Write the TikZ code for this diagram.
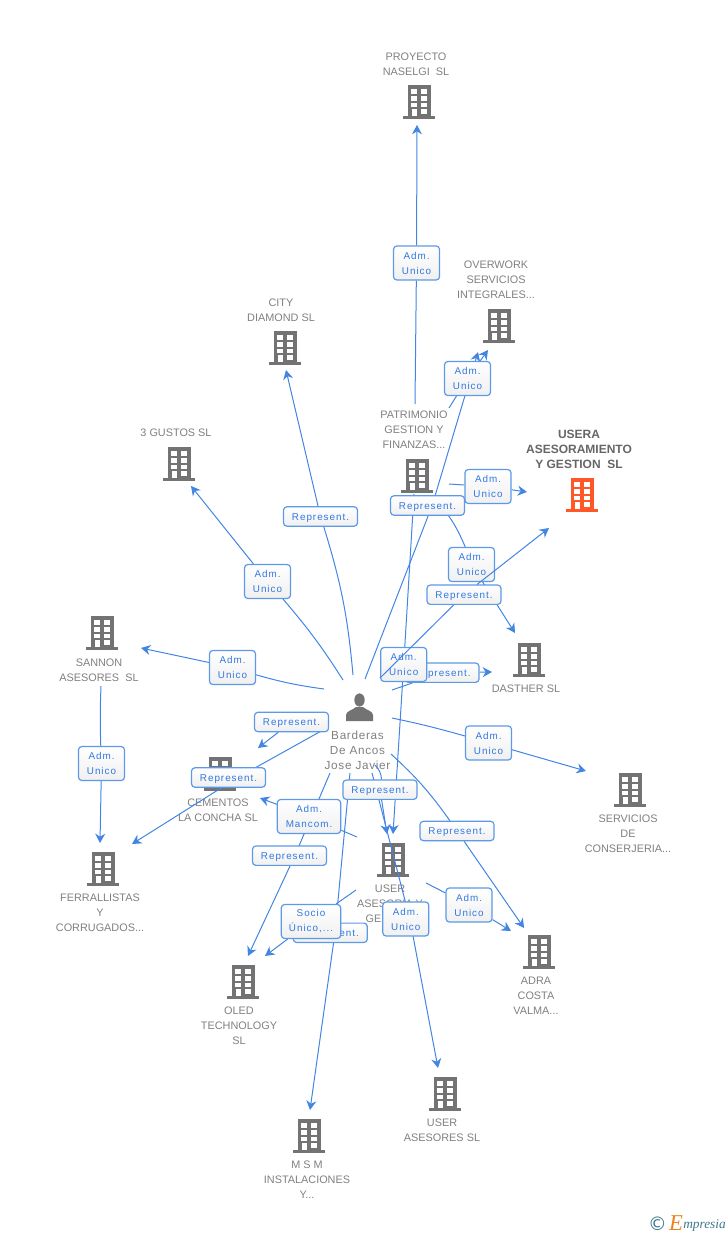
\documentclass[tikz,border=0pt]{standalone}
\usepackage{fontspec}
\setmainfont{Liberation Sans}
\newfontfamily\boxfont[LetterSpace=10]{Liberation Sans}
\newfontfamily\personfont[LetterSpace=6]{Liberation Sans}
\newfontfamily\logofont{Liberation Serif}
\newfontfamily\copyfont{DejaVu Sans}
\usetikzlibrary{arrows.meta}
\definecolor{linkblue}{RGB}{66, 133, 226}
\definecolor{boxblue}{RGB}{92, 153, 232}
\definecolor{boxtext}{RGB}{50, 120, 225}
\definecolor{iconcolor}{RGB}{115, 115, 115}
\definecolor{textcolor}{RGB}{128, 128, 128}
\definecolor{focuscolor}{RGB}{255, 87, 40}
\definecolor{focustext}{RGB}{102, 102, 102}
\definecolor{logoteal}{RGB}{62, 120, 140}
\definecolor{logoorange}{RGB}{240, 130, 30}
\pgfdeclarelayer{boxes}
\pgfsetlayers{main,boxes}
\tikzset{
  pics/building/.style={code={
    \fill[#1] (-11.5,-16.8) rectangle (11.5,14.2);
    \fill[#1] (-16,14.2) rectangle (16,16.8);
    \fill[white] (-7.7,-12.8) rectangle (-2.3,-7.8);
    \fill[white] (2,-12.8) rectangle (7.7,-7.8);
    \fill[white] (-7.7,-6.2) rectangle (-2.3,-1.5);
    \fill[white] (2,-6.2) rectangle (7.7,-1.5);
    \fill[white] (-7.7,0.5) rectangle (-2.3,5);
    \fill[white] (2,0.5) rectangle (7.7,5);
    \fill[white] (-6.7,7) rectangle (-2.3,14.2);
    \fill[white] (2,7) rectangle (7.7,11.5);
  }},
  bldlabel/.style={text=textcolor, align=center, font=\fontsize{8.15}{11.25}\selectfont, inner sep=0pt},
  tagbox/.style={draw=boxblue, line width=0.9pt, rounded corners=2.5pt, top color=white, bottom color=black!6,
    text=boxtext, align=center, font=\fontsize{7.4}{11.25}\selectfont\boxfont, inner sep=0pt},
  admbox/.style={tagbox, minimum width=34.5pt, minimum height=25.5pt},
  repbox/.style={tagbox, minimum width=55.5pt, minimum height=14.5pt, text height=6.2pt, text depth=0.5pt},
  link/.style={draw=linkblue, line width=0.75pt},
  arrowlink/.style={link, -{Stealth[length=7pt, width=7.5pt]}}
}

\begin{document}
\begin{tikzpicture}[x=0.75pt, y=-0.75pt]
  \useasboundingbox (0,0) rectangle (728,1235);

  % companies
  \pic at (419,102) {building=iconcolor};
  \node[bldlabel] (naselgi) at (416,64) {PROYECTO\\NASELGI~~SL};
  \pic at (499,326) {building=iconcolor};
  \node[bldlabel] (overwork) at (496,280) {OVERWORK\\SERVICIOS\\INTEGRALES...};
  \pic at (285,348) {building=iconcolor};
  \node[bldlabel] (city) at (281,310) {CITY\\DIAMOND SL};
  \pic at (179,464) {building=iconcolor};
  \node[bldlabel] (gustos) at (176,433) {3 GUSTOS SL};
  \pic at (417,476) {building=iconcolor};
  \node[bldlabel] (patrimonio) at (414,430) {PATRIMONIO\\GESTION Y\\FINANZAS...};
  \pic at (582,495) {building=focuscolor};
  \node[bldlabel, text=focustext, font=\fontsize{9}{11.25}\selectfont\bfseries] (usera) at (579,449) {USERA\\ASESORAMIENTO\\Y GESTION~~SL};
  \pic at (102,633) {building=iconcolor};
  \node[bldlabel] (sannon) at (99,670) {SANNON\\ASESORES~~SL};
  \pic at (529,660) {building=iconcolor};
  \node[bldlabel] (dasther) at (526,689) {DASTHER SL};
  \pic at (220,774) {building=iconcolor};
  \node[bldlabel] (cementos) at (218,810) {CEMENTOS\\LA CONCHA SL};
  \pic at (630,790) {building=iconcolor};
  \node[bldlabel] (servicios) at (628,834) {SERVICIOS\\DE\\CONSERJERIA...};
  \pic at (103,869) {building=iconcolor};
  \node[bldlabel] (ferrallistas) at (100,913) {FERRALLISTAS\\Y\\CORRUGADOS...};
  \pic at (393,860) {building=iconcolor};
  \node[bldlabel] (asesoria) at (390,904) {USER\\ASESORIA Y\\GESTION};
  \pic at (539,952) {building=iconcolor};
  \node[bldlabel] (adra) at (536,996) {ADRA\\COSTA\\VALMA...};
  \pic at (243,982) {building=iconcolor};
  \node[bldlabel] (oled) at (239,1026) {OLED\\TECHNOLOGY\\SL};
  \pic at (445,1094) {building=iconcolor};
  \node[bldlabel] (asesores) at (442,1130) {USER\\ASESORES SL};
  \pic at (309,1136) {building=iconcolor};
  \node[bldlabel] (msm) at (307,1180) {M S M\\INSTALACIONES\\Y...};

  % person
  \fill[iconcolor] (359.5,700) ellipse (5.2 and 6.6);
  \fill[iconcolor] (346,721) -- (346,715) .. controls (346,711) and (353,710) .. (356,707)
    -- (363,707) .. controls (366,710) and (373,711) .. (373,715) -- (373,721) -- cycle;
  \node[bldlabel, font=\fontsize{8.8}{11.25}\selectfont\personfont] (barderas) at (357.5,750) {Barderas\\De Ancos\\Jose Javier};

  % free ends
  \coordinate (b1) at (343,680);
  \coordinate (b2) at (353,675);
  \coordinate (b3) at (324,689);
  \coordinate (b4) at (323,721);
  \coordinate (b5) at (323,730);
  \coordinate (b6) at (330,773);
  \coordinate (b7) at (350,773);
  \coordinate (b8) at (375,765);
  \coordinate (b9) at (372,773);
  \coordinate (b10) at (365,679);
  \coordinate (b11) at (380,678);
  \coordinate (b12) at (392,690);
  \coordinate (b13) at (392,718);
  \coordinate (b14) at (391,754);
  \coordinate (pa1) at (415,404);
  \coordinate (pa2) at (449,408);
  \coordinate (pa3) at (449,484);
  \coordinate (pa4) at (433,497);
  \coordinate (pa5) at (414,494);
  \coordinate (as1) at (357,837);
  \coordinate (as2) at (356,890);
  \coordinate (as3) at (426,883);
  \coordinate (sa1) at (101,686);
  \coordinate (t-naselgi) at (417,125);
  \coordinate (t-over1) at (478,352);
  \coordinate (t-over2) at (488,350);
  \coordinate (t-city) at (286,370);
  \coordinate (t-gustos) at (191,486);
  \coordinate (t-sannon) at (141,648);
  \coordinate (t-usera1) at (527,492);
  \coordinate (t-usera2) at (549,528);
  \coordinate (t-dasther1) at (515,633);
  \coordinate (t-dasther2) at (492,672);
  \coordinate (t-cem1) at (258,748);
  \coordinate (t-cem2) at (260,798);
  \coordinate (t-ferr1) at (132,844);
  \coordinate (t-ferr2) at (100,843);
  \coordinate (t-serv) at (586,771);
  \coordinate (t-as1) at (387,834);
  \coordinate (t-as2) at (393,834);
  \coordinate (t-adra1) at (524,928);
  \coordinate (t-adra2) at (511,931);
  \coordinate (t-oled1) at (248,956);
  \coordinate (t-oled2) at (265,956);
  \coordinate (t-ases) at (438,1068);
  \coordinate (t-msm) at (310,1110);

  % role boxes
  \begin{pgfonlayer}{boxes}
    \node[admbox] (a-naselgi) at (416.5,263) {Adm.\\Unico};
    \node[admbox] (a-over) at (467.5,378.5) {Adm.\\Unico};
    \node[repbox] (r-city) at (320.5,516.5) {Represent.};
    \node[admbox] (a-gustos) at (267.5,581.5) {Adm.\\Unico};
    \node[admbox] (a-usera) at (488,486.5) {Adm.\\Unico};
    \node[repbox] (r-over) at (427.5,505.5) {Represent.};
    \node[admbox] (a-dasther) at (471.5,564.5) {Adm.\\Unico};
    \node[repbox] (r-usera) at (464,594.7) {Represent.};
    \node[repbox] (r-dasther) at (442,672.7) {Represent.};
    \node[admbox] (a-asesoria) at (403.7,664.5) {Adm.\\Unico};
    \node[admbox] (a-sannon) at (232.5,667.5) {Adm.\\Unico};
    \node[repbox] (r-cem) at (291.5,722) {Represent.};
    \node[repbox] (r-ferr) at (228.5,777.5) {Represent.};
    \node[admbox] (a-serv) at (488.5,743) {Adm.\\Unico};
    \node[admbox] (a-ferr) at (101.5,763.5) {Adm.\\Unico};
    \node[admbox, minimum width=47.5pt] (a-cem) at (309,816.5) {Adm.\\Mancom.};
    \node[repbox] (r-asesoria) at (380,789.7) {Represent.};
    \node[repbox] (r-adra) at (457,831) {Represent.};
    \node[repbox] (r-oled) at (289.5,855.7) {Represent.};
    \node[repbox] (r-msm) at (330.3,932.8) {Represent.};
    \node[admbox, minimum width=44.5pt] (s-oled) at (311,921.5) {Socio\\Único,...};
    \node[admbox] (a-ases) at (405.8,919) {Adm.\\Unico};
    \node[admbox] (a-adra) at (469,905) {Adm.\\Unico};
  \end{pgfonlayer}

  % links from the person
  \draw[link] (b1) to[bend right=4] (a-gustos);
  \draw[arrowlink] (a-gustos) -- (t-gustos);
  \draw[link] (b2) to[bend right=6] (r-city);
  \draw[arrowlink] (r-city) -- (t-city);
  \draw[link] (b3) to[bend left=4] (a-sannon);
  \draw[arrowlink] (a-sannon) -- (t-sannon);
  \draw[link] (b4) -- (r-cem);
  \draw[arrowlink] (r-cem) -- (t-cem1);
  \draw[link] (b5) -- ([xshift=7pt]r-ferr.center);
  \draw[arrowlink] ([xshift=7pt]r-ferr.center) -- (t-ferr1);
  \draw[link] (b6) -- ([xshift=4pt]r-oled.center);
  \draw[arrowlink] ([xshift=4pt]r-oled.center) -- (t-oled1);
  \draw[link] (b7) -- ([xshift=3.5pt]r-msm.center);
  \draw[arrowlink] ([xshift=3.5pt]r-msm.center) -- (t-msm);
  \draw[link] (b8) to[bend left=20] (r-asesoria);
  \draw[arrowlink] (r-asesoria) -- (t-as1);
  \draw[link] (b9) -- ([xshift=3pt]a-ases.center);
  \draw[arrowlink] ([xshift=3pt]a-ases.center) -- (t-ases);
  \draw[link] (b10) -- ([xshift=3.5pt]r-over.center);
  \draw[arrowlink] ([xshift=3.5pt]r-over.center) -- (t-over1);
  \draw[link] (b12) -- (r-dasther);
  \draw[arrowlink] (r-dasther) -- (t-dasther2);
  \draw[link] (b13) to[bend left=2] (a-serv);
  \draw[arrowlink] (a-serv) -- (t-serv);
  \draw[link] (b14) to[bend left=6] (r-adra);
  \draw[arrowlink] (r-adra) -- (t-adra1);

  % links from the other companies
  \draw[link] (pa1) -- (a-naselgi);
  \draw[arrowlink] (a-naselgi) -- (t-naselgi);
  \draw[link] (pa2) -- (a-over);
  \draw[arrowlink] (a-over) -- (t-over2);
  \draw[link] (pa3) -- (a-usera);
  \draw[arrowlink] (a-usera) -- (t-usera1);
  \draw[link] (pa4) to[bend left=10] (a-dasther);
  \draw[arrowlink] (a-dasther) -- (t-dasther1);
  \draw[link] (pa5) -- (a-asesoria);
  \draw[arrowlink] (a-asesoria) -- (t-as2);
  \draw[link] (as1) -- (a-cem);
  \draw[arrowlink] (a-cem) -- (t-cem2);
  \draw[link] (as2) -- (s-oled);
  \draw[arrowlink] (s-oled) -- (t-oled2);
  \draw[link] (as3) -- (a-adra);
  \draw[arrowlink] (a-adra) -- (t-adra2);
  \draw[link] (sa1) to[bend right=2] (a-ferr);
  \draw[arrowlink] (a-ferr) -- (t-ferr2);

  % this one runs over the boxes
  \begin{pgfonlayer}{boxes}
    \draw[link] (b11) -- (r-usera);
    \draw[arrowlink] (r-usera) -- (t-usera2);
  \end{pgfonlayer}

  % logo
  \node[inner sep=0pt, text=logoteal, font=\fontsize{14}{14}\selectfont\copyfont] (copysign) at (657.5,1224) {©};
  \node[inner sep=0pt, text=logoorange, font=\fontsize{17}{17}\selectfont\logofont\itshape] (logoe) at (676,1223) {E};
  \node[inner sep=0pt, text=logoteal, font=\fontsize{10}{10}\selectfont\logofont\itshape, anchor=west] (logotext) at (683,1225) {mpresia};
\end{tikzpicture}
\end{document}
